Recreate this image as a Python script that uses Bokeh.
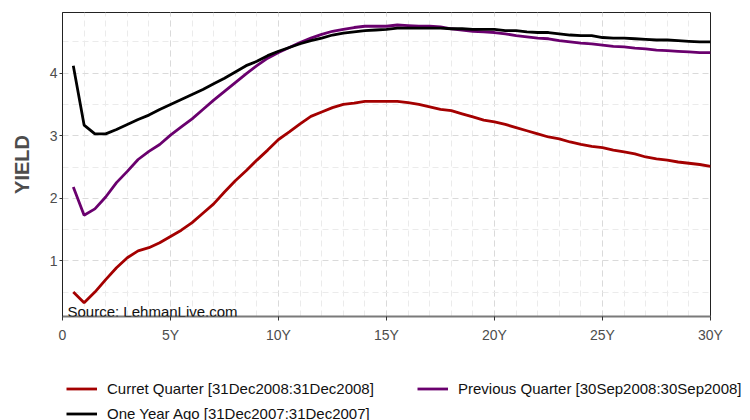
from bokeh.plotting import figure
from bokeh.layouts import column
from bokeh.models import FixedTicker, Legend, LegendItem, Label, Range1d
from bokeh.embed import file_html
from bokeh.resources import INLINE

tenor = [0.5, 1.0, 1.5, 2.0, 2.5, 3.0, 3.5, 4.0, 4.5, 5.0,
         5.5, 6.0, 6.5, 7.0, 7.5, 8.0, 8.5, 9.0, 9.5, 10.0,
         10.5, 11.0, 11.5, 12.0, 12.5, 13.0, 13.5, 14.0, 14.5, 15.0,
         15.5, 16.0, 16.5, 17.0, 17.5, 18.0, 18.5, 19.0, 19.5, 20.0,
         20.5, 21.0, 21.5, 22.0, 22.5, 23.0, 23.5, 24.0, 24.5, 25.0,
         25.5, 26.0, 26.5, 27.0, 27.5, 28.0, 28.5, 29.0, 29.5, 30.0]

current_quarter = [0.50, 0.33, 0.50, 0.70, 0.89, 1.05, 1.16, 1.21, 1.29, 1.39,
                   1.49, 1.61, 1.76, 1.91, 2.10, 2.28, 2.44, 2.61, 2.77, 2.94,
                   3.06, 3.19, 3.31, 3.38, 3.45, 3.50, 3.52, 3.55, 3.55, 3.55,
                   3.55, 3.53, 3.50, 3.46, 3.42, 3.40, 3.35, 3.30, 3.25, 3.22,
                   3.18, 3.13, 3.08, 3.03, 2.98, 2.95, 2.90, 2.86, 2.83, 2.81,
                   2.77, 2.74, 2.71, 2.66, 2.63, 2.61, 2.58, 2.56, 2.54, 2.51]

previous_quarter = [2.18, 1.73, 1.83, 2.02, 2.25, 2.43, 2.62, 2.75, 2.86, 3.01,
                    3.14, 3.27, 3.42, 3.57, 3.71, 3.85, 3.99, 4.12, 4.24, 4.33,
                    4.41, 4.49, 4.56, 4.62, 4.67, 4.70, 4.73, 4.75, 4.75, 4.75,
                    4.77, 4.76, 4.75, 4.75, 4.74, 4.71, 4.69, 4.67, 4.66, 4.65,
                    4.63, 4.60, 4.58, 4.56, 4.55, 4.52, 4.50, 4.48, 4.47, 4.45,
                    4.43, 4.42, 4.40, 4.39, 4.37, 4.36, 4.35, 4.34, 4.33, 4.33]

one_year_ago = [4.12, 3.17, 3.03, 3.03, 3.10, 3.18, 3.26, 3.33, 3.42, 3.50,
                3.58, 3.66, 3.74, 3.83, 3.92, 4.02, 4.12, 4.19, 4.28, 4.35,
                4.41, 4.47, 4.52, 4.56, 4.61, 4.64, 4.66, 4.68, 4.69, 4.70,
                4.72, 4.72, 4.72, 4.72, 4.72, 4.71, 4.71, 4.70, 4.70, 4.70,
                4.68, 4.68, 4.66, 4.65, 4.65, 4.63, 4.61, 4.60, 4.60, 4.57,
                4.56, 4.56, 4.55, 4.54, 4.53, 4.53, 4.52, 4.51, 4.50, 4.50]

series_labels = ["Curret Quarter [31Dec2008:31Dec2008]",
                 "Previous Quarter [30Sep2008:30Sep2008]",
                 "One Year Ago [31Dec2007:31Dec2007]"]
series_colors = ["#a40000", "#6a006e", "#000000"]
series_values = [current_quarter, previous_quarter, one_year_ago]

x_ticks = [0, 5, 10, 15, 20, 25, 30]
x_tick_labels = ["0", "5Y", "10Y", "15Y", "20Y", "25Y", "30Y"]
x_minor_ticks = list(range(0, 31))
y_ticks = [1, 2, 3, 4]
y_minor_ticks = [0.5, 1.5, 2.5, 3.5, 4.5]
source_text = "Source: LehmanLive.com"
y_title = "YIELD"

FONT = "Liberation Sans"
LINE_W = 2.8

p = figure(width=734, height=350, output_backend="svg", toolbar_location=None,
           x_range=Range1d(0, 30), y_range=Range1d(0.11, 4.97),
           min_border_left=62, min_border_right=24, min_border_top=12,
           min_border_bottom=34)
p.frame_align = False
p.background_fill_color = "white"
p.border_fill_color = "white"
p.outline_line_color = "#222222"
p.outline_line_width = 1

for ys, col in zip(series_values, series_colors):
    p.line(tenor, ys, line_color=col, line_width=LINE_W)

# grid
p.xaxis.ticker = FixedTicker(ticks=x_ticks, minor_ticks=x_minor_ticks)
p.yaxis.ticker = FixedTicker(ticks=y_ticks, minor_ticks=y_minor_ticks)
p.xaxis.major_label_overrides = {t: l for t, l in zip(x_ticks, x_tick_labels)}
for g in (p.xgrid, p.ygrid):
    g.grid_line_color = "#dadada"
    g.grid_line_dash = "6 4"
    g.grid_line_width = 1
    g.minor_grid_line_color = "#ebebeb"
    g.minor_grid_line_dash = "6 4"
    g.minor_grid_line_width = 1

# axes
p.xaxis.axis_line_color = "#7a7a7a"
p.xaxis.axis_line_width = 2
p.yaxis.axis_line_color = "#222222"
p.yaxis.axis_line_width = 1
for ax in (p.xaxis, p.yaxis):
    ax.minor_tick_line_color = None
    ax.major_tick_in = 0
    ax.major_tick_line_color = "#333333"
    ax.major_label_text_font = FONT
    ax.major_label_text_font_size = "14px"
    ax.major_label_text_color = "#4d4d4d"
p.xaxis.major_tick_out = 4
p.yaxis.major_tick_out = 3
p.xaxis.major_label_standoff = 6
p.yaxis.major_label_standoff = 1
p.yaxis.axis_label = y_title
p.yaxis.axis_label_text_font = FONT
p.yaxis.axis_label_text_font_size = "20px"
p.yaxis.axis_label_text_font_style = "bold"
p.yaxis.axis_label_text_color = "#4d4d4d"
p.yaxis.axis_label_standoff = 14

# source note
p.add_layout(Label(x=5, y=5, x_units="screen", y_units="screen", text=source_text,
                   text_font=FONT, text_font_size="15px", text_color="#111111",
                   text_baseline="alphabetic"))

# legend strip underneath the chart (its data sits outside its own visible range)
lg = figure(width=750, height=70, output_backend="svg", toolbar_location=None,
            x_range=Range1d(-3, -2), y_range=Range1d(-3, -2),
            x_axis_location=None, y_axis_location=None,
            min_border_left=0, min_border_right=0, min_border_top=0, min_border_bottom=0)
lg.frame_align = False
lg.outline_line_color = None
lg.xgrid.visible = False
lg.ygrid.visible = False
keys = [lg.line(tenor, ys, line_color=col, line_width=LINE_W)
        for ys, col in zip(series_values, series_colors)]

legend = Legend(items=[LegendItem(label=l, renderers=[r]) for l, r in zip(series_labels, keys)],
                location=(66, -6), orientation="horizontal", ncols=2,
                label_text_font=FONT, label_text_font_size="15px",
                label_text_color="#111111", glyph_width=31, glyph_height=25,
                label_height=25, label_width=310, label_standoff=10, spacing=0,
                padding=0, margin=0, border_line_color=None, background_fill_alpha=0)
lg.add_layout(legend, "center")

layout = column(p, lg, spacing=0)
open("out.html", "w").write(file_html(layout, INLINE))
